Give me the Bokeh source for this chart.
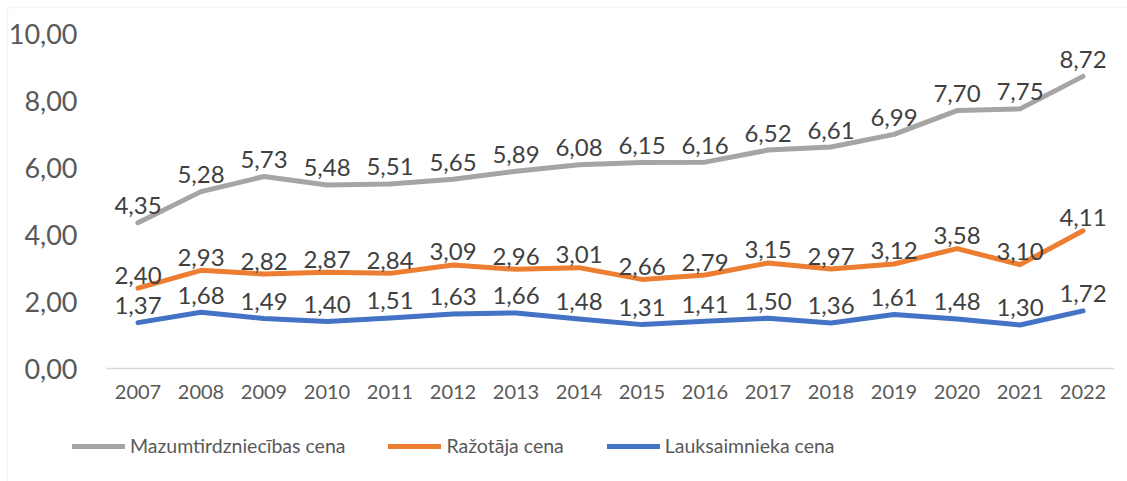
from bokeh.plotting import figure
from bokeh.models import (ColumnDataSource, Legend, LegendItem, FixedTicker,
                          CustomJSTickFormatter, BoxAnnotation)
from bokeh.core.properties import value
from bokeh.embed import file_html
from bokeh.resources import INLINE

years = [2007, 2008, 2009, 2010, 2011, 2012, 2013, 2014, 2015, 2016, 2017, 2018, 2019, 2020, 2021, 2022]
mazumtirdzniecibas = [4.35, 5.28, 5.73, 5.48, 5.51, 5.65, 5.89, 6.08, 6.15, 6.16, 6.52, 6.61, 6.99, 7.70, 7.75, 8.72]
razotaja = [2.40, 2.93, 2.82, 2.87, 2.84, 3.09, 2.96, 3.01, 2.66, 2.79, 3.15, 2.97, 3.12, 3.58, 3.10, 4.11]
lauksaimnieka = [1.37, 1.68, 1.49, 1.40, 1.51, 1.63, 1.66, 1.48, 1.31, 1.41, 1.50, 1.36, 1.61, 1.48, 1.30, 1.72]
series_names = ["Mazumtirdzniecības cena", "Ražotāja cena", "Lauksaimnieka cena"]
y_ticks = [0, 2, 4, 6, 8, 10]

FONT = "Lato"
colors = ["#A5A5A5", "#ED7D31", "#4472C4"]
label_gap = [17, 13, 17]

# layout (pixels inside the figure canvas)
W, H = 1127, 481
plot_left, plot_right = 106, 1114     # where the category band starts / ends
plot_top, plot_bottom = 33, 368       # y=10 and y=0
x0, x1 = years[0] - 0.5, years[-1] + 0.5
y0, y1 = y_ticks[0], y_ticks[-1]
px_x = (plot_right - plot_left) / (x1 - x0)
px_y = (plot_bottom - plot_top) / (y1 - y0)
xr = (x0 - plot_left / px_x, x1 + (W - plot_right) / px_x)
yr = (y0 - (H - plot_bottom) / px_y, y1 + plot_top / px_y)


def sx(px):
    return xr[0] + px / px_x


def sy(py):
    return yr[1] - py / px_y


p = figure(width=W, height=H, output_backend="svg", toolbar_location=None,
           x_range=xr, y_range=yr,
           min_border_left=0, min_border_right=0, min_border_top=0, min_border_bottom=0)
p.outline_line_color = None
p.xgrid.grid_line_color = None
p.ygrid.grid_line_color = None
p.background_fill_color = "white"
p.border_fill_color = "white"

# chart border (top and left edges visible, the rest lies beyond the picture)
p.add_layout(BoxAnnotation(left=sx(7), top=sy(7), right=sx(W + 20), bottom=sy(H + 20),
                           fill_alpha=0, line_color="#d9d9d9", line_width=1.5))

# y axis
p.yaxis.fixed_location = x0
p.yaxis.bounds = (y0, y1)
p.yaxis.ticker = FixedTicker(ticks=y_ticks)
p.yaxis.formatter = CustomJSTickFormatter(code="return tick.toFixed(2).replace('.', ',');")
p.yaxis.axis_line_color = None
p.yaxis.major_tick_line_color = None
p.yaxis.minor_tick_line_color = None
p.yaxis.major_label_standoff = 23
p.yaxis.major_label_text_font = FONT
p.yaxis.major_label_text_font_size = "27px"
p.yaxis.major_label_text_color = "#595959"

# x axis
p.xaxis.fixed_location = 0
p.xaxis.bounds = (x0, x1)
p.xaxis.ticker = FixedTicker(ticks=years)
p.xaxis.axis_line_color = "#d9d9d9"
p.xaxis.axis_line_width = 1.5
p.xaxis.major_tick_line_color = None
p.xaxis.minor_tick_line_color = None
p.xaxis.major_label_standoff = 10
p.xaxis.major_label_text_font = FONT
p.xaxis.major_label_text_font_size = "20px"
p.xaxis.major_label_text_color = "#595959"

renderers = []
for vals, col, gap in zip([mazumtirdzniecibas, razotaja, lauksaimnieka], colors, label_gap):
    src = ColumnDataSource(dict(x=years, y=vals,
                                lab=[f"{v:.2f}".replace(".", ",") for v in vals]))
    r = p.line("x", "y", source=src, line_color=col, line_width=5,
               line_join="round", line_cap="round")
    renderers.append(r)
    p.text("x", "y", text="lab", source=src, text_font=value(FONT),
           text_font_size="24px", text_color="#404040", text_align="center",
           text_baseline="alphabetic", y_offset=-gap)

legend = Legend(items=[LegendItem(label=n, renderers=[r]) for n, r in zip(series_names, renderers)],
                orientation="horizontal", location=(72, 24),
                glyph_width=53, glyph_height=20, label_height=20, label_standoff=5,
                spacing=43, padding=0, margin=0,
                border_line_color=None, background_fill_alpha=0,
                label_text_font=FONT, label_text_font_size="19.5px", label_text_color="#595959")
p.add_layout(legend, "center")

open("out.html", "w").write(file_html(p, INLINE))
